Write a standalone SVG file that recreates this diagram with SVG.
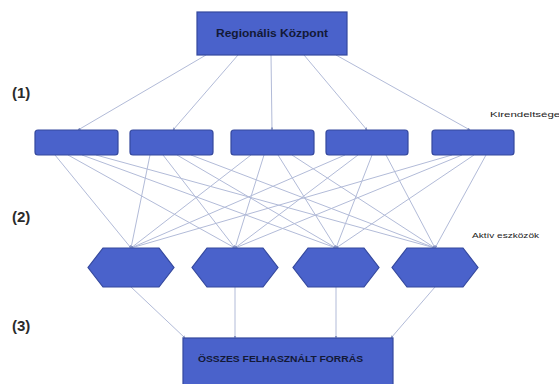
<svg xmlns="http://www.w3.org/2000/svg" width="559" height="384" viewBox="0 0 559 384">
<defs>
<marker id="arr" viewBox="0 0 6 6" refX="5" refY="3" markerWidth="3" markerHeight="3" orient="auto">
<path d="M0,0 L6,3 L0,6 z" fill="#8a96c0"/>
</marker>
<style>
.node{fill:#4a62cb;stroke:#34489e;stroke-width:1.2}
.edge{stroke:#b2bbd8;stroke-width:1;fill:none;marker-end:url(#arr)}
.lvl{font-family:"Liberation Sans",Arial,sans-serif;font-weight:bold;font-size:15px;fill:#2b2b2b}
.small{font-family:"Liberation Sans",Arial,sans-serif;font-size:8px;fill:#222}
.lbl{font-family:"Liberation Sans",Arial,sans-serif;fill:#131936}
</style>
</defs>
<rect width="559" height="384" fill="#ffffff"/>
<g id="connectors">
<line class="edge" x1="206" y1="55" x2="78" y2="130"/>
<line class="edge" x1="238" y1="55" x2="173" y2="130"/>
<line class="edge" x1="271" y1="55" x2="272" y2="130"/>
<line class="edge" x1="304" y1="55" x2="367" y2="130"/>
<line class="edge" x1="336" y1="55" x2="470" y2="130"/>
<line class="edge" x1="55" y1="155" x2="131" y2="248"/>
<line class="edge" x1="68" y1="155" x2="235" y2="248"/>
<line class="edge" x1="82" y1="155" x2="336" y2="248"/>
<line class="edge" x1="96" y1="155" x2="435" y2="248"/>
<line class="edge" x1="150" y1="155" x2="131" y2="248"/>
<line class="edge" x1="163" y1="155" x2="235" y2="248"/>
<line class="edge" x1="177" y1="155" x2="336" y2="248"/>
<line class="edge" x1="191" y1="155" x2="435" y2="248"/>
<line class="edge" x1="251" y1="155" x2="131" y2="248"/>
<line class="edge" x1="264" y1="155" x2="235" y2="248"/>
<line class="edge" x1="278" y1="155" x2="336" y2="248"/>
<line class="edge" x1="292" y1="155" x2="435" y2="248"/>
<line class="edge" x1="345" y1="155" x2="131" y2="248"/>
<line class="edge" x1="358" y1="155" x2="235" y2="248"/>
<line class="edge" x1="372" y1="155" x2="336" y2="248"/>
<line class="edge" x1="386" y1="155" x2="435" y2="248"/>
<line class="edge" x1="452" y1="155" x2="131" y2="248"/>
<line class="edge" x1="462" y1="155" x2="235" y2="248"/>
<line class="edge" x1="474" y1="155" x2="336" y2="248"/>
<line class="edge" x1="486" y1="155" x2="435" y2="248"/>
<line class="edge" x1="131" y1="287" x2="185" y2="338"/>
<line class="edge" x1="235" y1="287" x2="235" y2="338"/>
<line class="edge" x1="336" y1="287" x2="336" y2="338"/>
<line class="edge" x1="435" y1="287" x2="391" y2="338"/>
</g>
<g id="regional">
<rect class="node" x="197" y="12" width="150" height="43"/>
<text class="lbl" x="272" y="37" font-size="10.5" font-weight="bold" text-anchor="middle" textLength="112" lengthAdjust="spacingAndGlyphs">Regionális Központ</text>
</g>
<g id="branch1"><rect class="node" x="35" y="130" width="83" height="25" rx="3"/></g>
<g id="branch2"><rect class="node" x="130" y="130" width="83" height="25" rx="3"/></g>
<g id="branch3"><rect class="node" x="231" y="130" width="83" height="25" rx="3"/></g>
<g id="branch4"><rect class="node" x="326" y="130" width="82" height="25" rx="3"/></g>
<g id="branch5"><rect class="node" x="432" y="130" width="82" height="25" rx="3"/></g>
<g id="asset1"><polygon class="node" points="103,248 159,248 174,267.5 159,287 103,287 88,267.5"/></g>
<g id="asset2"><polygon class="node" points="207,248 263,248 278,267.5 263,287 207,287 192,267.5"/></g>
<g id="asset3"><polygon class="node" points="308,248 364,248 379,267.5 364,287 308,287 293,267.5"/></g>
<g id="asset4"><polygon class="node" points="407,248 463,248 478,267.5 463,287 407,287 392,267.5"/></g>
<g id="total">
<rect class="node" x="183" y="338" width="210" height="52"/>
<text class="lbl" x="198" y="362" font-size="9" font-weight="bold" textLength="165" lengthAdjust="spacingAndGlyphs">ÖSSZES FELHASZNÁLT FORRÁS</text>
</g>
<g id="labels">
<text class="lvl" x="12" y="98">(1)</text>
<text class="lvl" x="12" y="222">(2)</text>
<text class="lvl" x="12" y="331">(3)</text>
<text class="small" x="490" y="117" textLength="76" lengthAdjust="spacingAndGlyphs">Kirendeltségek</text>
<text class="small" x="472" y="238" textLength="67" lengthAdjust="spacingAndGlyphs">Aktív eszközök</text>
</g>
</svg>
